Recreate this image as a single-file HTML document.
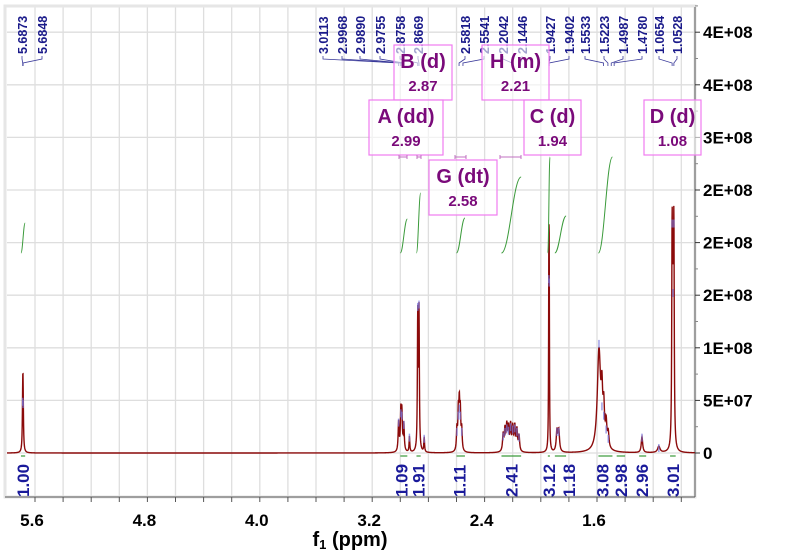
<!DOCTYPE html>
<html><head><meta charset="utf-8"><style>
html,body{margin:0;padding:0;background:#fff}
svg{display:block;font-family:"Liberation Sans",sans-serif}
</style></head><body>
<svg id="c" width="800" height="558" viewBox="0 0 800 558"></svg>
<script>
// ---- data ----
const xTicks=[5.6,4.8,4.0,3.2,2.4,1.6];
const yTickVals=[0,5e7,1e8,1.5e8,2e8,2.5e8,3e8,3.5e8,4e8];
const yTickLabels=["0","5E+07","1E+08","2E+08","2E+08","2E+08","3E+08","4E+08","4E+08"];
const peakPpm=[5.6873,5.6848,3.012,2.996,2.989,2.975,2.935,2.8758,2.8669,2.83,2.597,2.587,2.58,2.573,2.563,2.268,2.255,2.242,2.23,2.215,2.2,2.185,2.17,2.155,1.9427,1.9402,1.885,1.872,1.586,1.565,1.552,1.535,1.52,1.28,1.16,1.0654,1.0591,1.0528];
const peakHeight=[4.6e7,4.4e7,2.8e7,3.6e7,3.4e7,2.6e7,1.5e7,12.8e7,13.0e7,1.4e7,2.0e7,3.4e7,4.0e7,3.4e7,2.0e7,1.6e7,2.0e7,2.3e7,2.1e7,2.4e7,2.2e7,2.3e7,2.0e7,1.5e7,15.2e7,14.9e7,2.0e7,2.0e7,9.6e7,4.2e7,3.4e7,2.2e7,1.4e7,1.5e7,0.6e7,20e7,14e7,20e7];
const peakWidth=[0.003,0.003,0.004,0.004,0.004,0.004,0.003,0.003,0.003,0.003,0.004,0.004,0.004,0.004,0.004,0.005,0.005,0.005,0.005,0.005,0.005,0.005,0.005,0.005,0.002,0.002,0.006,0.006,0.014,0.006,0.006,0.006,0.006,0.006,0.01,0.003,0.003,0.003];
const peakLabels=["5.6873","5.6848","3.0113","2.9968","2.9890","2.9755","2.8758","2.8669","2.5818","2.5541","2.2042","2.1446","1.9427","1.9402","1.5533","1.5223","1.4987","1.4780","1.0654","1.0528"];
const peakLabelX=[22,42,323,342,360,380,400,418,465,484,503,522,550,569,585,604,623,642,659,677];
const integralValues=["1.00","1.09","1.91","1.11","2.41","3.12","1.18","3.08","2.98","2.96","3.01"];
const integralPpm=[5.687,2.99,2.87,2.58,2.21,1.94,1.80,1.56,1.43,1.28,1.06];
const intFrom=[5.70,3.00,2.885,2.60,2.28,1.95,1.90,1.59,1.46,1.30,1.08];
const intTo=[5.67,2.95,2.855,2.54,2.14,1.935,1.82,1.49,1.40,1.25,1.04];
const intRise=[30,34,60,35,76,96,37,96,0,0,0];
const multLetters=["B (d)","H (m)","A (dd)","C (d)","D (d)","G (dt)"];
const multShifts=["2.87","2.21","2.99","1.94","1.08","2.58"];
// ---- scales ----
const X=p=>597+(1.6-p)*140.5;
const Y=v=>453-v*(52.6/5e7);
const PL=7,PR=695,PT=7,PB=497;
const NS="http://www.w3.org/2000/svg";
const svg=document.getElementById('c');
function mk(t,a,parent){const e=document.createElementNS(NS,t);for(const k in a)e.setAttribute(k,a[k]);(parent||svg).appendChild(e);return e;}
// background grid
const grid=mk('g',{});


for(let p=5.8;p>0.85;p-=0.2){const x=X(p);if(x<PL||x>PR)continue;mk('line',{x1:x,x2:x,y1:PT,y2:PB,stroke:'#dedede','stroke-width':1.3},grid);}
yTickVals.forEach(v=>{mk('line',{x1:PL,x2:PR,y1:Y(v),y2:Y(v),stroke:'#dedede','stroke-width':1.3},grid);});
mk('rect',{x:PL-2,y:PT-1,width:PR-PL+2,height:PB-PT+1,fill:'none',stroke:'#e6e6e6','stroke-width':3},grid);
// axes
const ax=mk('g',{});


mk('line',{x1:PR,x2:PR,y1:PT,y2:PB,stroke:'#555','stroke-width':1},ax);
yTickVals.forEach((v,i)=>{const y=Y(v);mk('line',{x1:PR,x2:PR+5,y1:y,y2:y,stroke:'#333'},ax);
 mk('line',{x1:PR,x2:PR+3,y1:y-26.3,y2:y-26.3,stroke:'#888'},ax);
 const t=mk('text',{x:PR+8,y:y+6,'font-size':17,'font-weight':'bold',fill:'#000'},ax);t.textContent=yTickLabels[i];
 
 });
const xa=mk('g',{});


mk('line',{x1:PL-2,x2:PR,y1:PB,y2:PB,stroke:'#555'},xa);
for(let p=5.8;p>0.85;p-=0.2){const x=X(p);if(x<PL||x>PR)continue;mk('line',{x1:x,x2:x,y1:PB,y2:PB+5,stroke:'#555'},xa);}
xTicks.forEach(p=>{const t=mk('text',{x:X(p)-3,y:526,'font-size':17,'font-weight':'bold','text-anchor':'middle'},xa);t.textContent=p.toFixed(1);
 
 });
const xt=mk('text',{x:350,y:546,'font-size':20,'font-weight':'bold','text-anchor':'middle'});
xt.innerHTML='f<tspan font-size="13" dy="3">1</tspan><tspan dy="-3"> (ppm)</tspan>';


// spectrum
let d='';
for(let x=PL;x<=PR;x+=0.2){const p=1.6-(x-597)/140.5;let v=0;for(let i=0;i<peakPpm.length;i++){const u=(p-peakPpm[i])/peakWidth[i];v+=peakHeight[i]/(1+u*u);}
 let y=Y(v);if(y<PT)y=PT;d+=(d?'L':'M')+x.toFixed(2)+','+y.toFixed(2);}
const sp=mk('path',{d:d,fill:'none',stroke:'#8b0a0a','stroke-width':1.4});


// peak markers
peakPpm.forEach((p,i)=>{const m=mk('line',{x1:X(p),x2:X(p),y1:Y(peakHeight[i]*1.1)-2,y2:Y(peakHeight[i]*1.1)+6,stroke:'#7777dd','stroke-width':1.5,opacity:0.7});
 
 });
// integrals
integralValues.forEach((s,i)=>{
 const x1=X(intFrom[i]),x2=X(intTo[i]);
 const b=mk('line',{x1:x1,x2:x2,y1:456,y2:456,stroke:'#3a9a3a','stroke-width':1.2});
 
 
 if(intRise[i]>0){const c=mk('path',{d:`M${x1},253 C${x1+(x2-x1)*0.4},253 ${x1+(x2-x1)*0.6},${253-intRise[i]} ${x2},${253-intRise[i]}`,fill:'none',stroke:'#3a9a3a','stroke-width':1});
  
  }
 const x=X(integralPpm[i]);
 const t=mk('text',{x:0,y:0,'font-size':17,'font-weight':'bold',fill:'#1a1a9a',transform:`translate(${x+6},497) rotate(-90)`});
 t.textContent=s;
 
 });
// peak labels on top
peakLabels.forEach((s,i)=>{const x=peakLabelX[i];
 const t=mk('text',{x:0,y:0,'font-size':12.5,'font-weight':'bold',fill:'#1a1a8a',transform:`translate(${x+5},54) rotate(-90)`});
 t.textContent=s;
 
 
 const p=parseFloat(s);const tx=X(p);
 mk('path',{d:`M${x},56 L${x},59 L${tx},63 L${tx},66`,fill:'none',stroke:'#3a3a9a','stroke-width':0.8});});
// multiplet boxes
const bx=[[394,45,58,55],[482,45,67,55],[369,100,74,55],[524,100,57,55],[644,100,57,55],[429,160,68,55]];
multLetters.forEach((s,i)=>{const [x,y,w,h]=bx[i];
 const g=mk('g',{});
 
 
 mk('rect',{x:x,y:y,width:w,height:h,fill:'rgba(255,255,255,0.6)',stroke:'#f07cf0','stroke-width':1.2},g);
 const t1=mk('text',{x:x+w/2,y:y+23,'font-size':20,'font-weight':'bold',fill:'#7a0a7a','text-anchor':'middle'},g);t1.textContent=s;
 const t2=mk('text',{x:x+w/2,y:y+46,'font-size':15,'font-weight':'bold',fill:'#7a0a7a','text-anchor':'middle'},g);t2.textContent=multShifts[i];});
// small range marks
[[399,407],[417,421],[455,466],[500,521]].forEach(r=>{mk('path',{d:`M${r[0]},155 v4 M${r[0]},157 H${r[1]} M${r[1]},155 v4`,stroke:'#c070c0','stroke-width':1,fill:'none'});});
</script>
</body></html>
